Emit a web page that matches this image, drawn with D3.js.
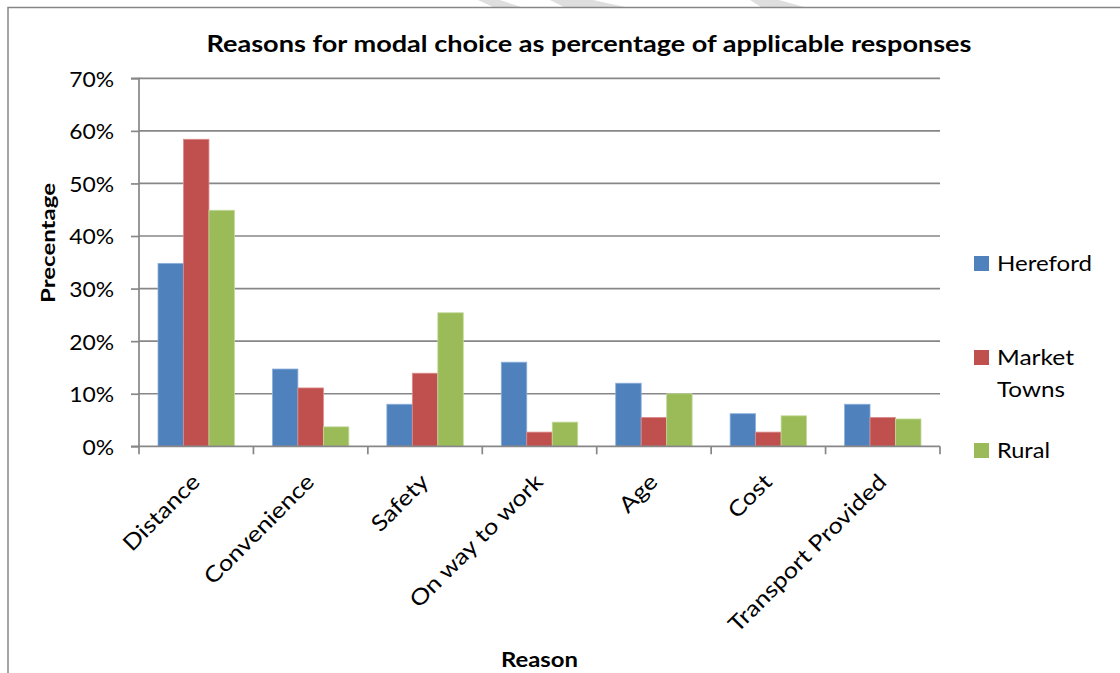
<!DOCTYPE html>
<html>
<head>
<meta charset="utf-8">
<script src="https://cdn.jsdelivr.net/npm/d3@7"></script>
<style>
  html, body { margin: 0; padding: 0; background: #fff; }
  svg { display: block; }
  text { font-family: Lato, "Open Sans", sans-serif; fill: #000; }
</style>
</head>
<body>
<svg id="chart" width="1120" height="673"></svg>
<script>
// ---- data ----
const categories = ["Distance", "Convenience", "Safety", "On way to work", "Age", "Cost", "Transport Provided"];
const seriesNames = ["Hereford", "Market Towns", "Rural"];
const hereford    = [34.8, 14.7, 8.0, 16.0, 12.0, 6.2, 8.0];
const marketTowns = [58.4, 11.1, 13.9, 2.7, 5.5, 2.7, 5.5];
const rural       = [44.9, 3.7, 25.4, 4.6, 10.0, 5.8, 5.2];
const yTicks = [0, 10, 20, 30, 40, 50, 60, 70];
const colors = ["#4F81BD", "#C0504D", "#9BBB59"];
const strokeColors = ["#8DB0DC", "#DC8C8A", "#C3DA9C"];

const seriesValues = [hereford, marketTowns, rural];

const svg = d3.select("#chart");

// stretch a text element horizontally to a given length
function fitLength(sel, target) {
  sel.each(function () {
    const L = this.getComputedTextLength();
    const t = typeof target === "function" ? target(L) : target;
    d3.select(this).attr("textLength", t).attr("lengthAdjust", "spacingAndGlyphs");
  });
}

// watermark fragments at top edge
const stripes = [
  [[478,0],[500,0],[521,7],[493,7]],
  [[550,0],[593,0],[625,7],[564,7]],
  [[750,0],[779,0],[804,7],[761,7]]
];
svg.selectAll("polygon.wm").data(stripes).join("polygon")
  .attr("points", d => d.map(p => p.join(",")).join(" "))
  .attr("fill", "#dedede");

// chart border
svg.append("rect")
  .attr("x", 8).attr("y", 7.5)
  .attr("width", 1130).attr("height", 700)
  .attr("fill", "#fff").attr("stroke", "#868686").attr("stroke-width", 1.5);

const plot = { left: 139, right: 940, top: 78.3, bottom: 446.3 };

const x0 = d3.scaleBand().domain(categories).range([plot.left, plot.right]).paddingInner(0).paddingOuter(0);
const x1 = d3.scaleBand().domain(seriesNames).range([19, x0.bandwidth() - 19]).padding(0);
const y = d3.scaleLinear().domain([0, 70]).range([plot.bottom, plot.top]);

// gridlines
svg.append("g").selectAll("line").data(yTicks.filter(t => t > 0)).join("line")
  .attr("x1", plot.left).attr("x2", plot.right)
  .attr("y1", d => y(d)).attr("y2", d => y(d))
  .attr("stroke", "#878787").attr("stroke-width", 1.7);

// bars
const rows = [];
categories.forEach((c, i) => {
  seriesNames.forEach((s, j) => rows.push({ cat: c, series: s, j, v: seriesValues[j][i] }));
});
svg.append("g").selectAll("rect").data(rows).join("rect")
  .attr("x", d => x0(d.cat) + x1(d.series))
  .attr("width", x1.bandwidth())
  .attr("y", d => y(d.v))
  .attr("height", d => y(0) - y(d.v))
  .attr("fill", d => colors[d.j])
  .attr("stroke", d => strokeColors[d.j])
  .attr("stroke-width", 0.8);

// y axis
const yAxis = d3.axisLeft(y).tickValues(yTicks).tickSize(8).tickPadding(17)
  .tickFormat(d => d + "%");
const gy = svg.append("g").attr("transform", `translate(${plot.left},0)`).call(yAxis);
gy.select(".domain").attr("stroke", "#878787").attr("stroke-width", 1.7).attr("d", `M-8,${plot.top}H0V${plot.bottom}`);
gy.selectAll(".tick line").attr("stroke", "#878787").attr("stroke-width", 1.7);
gy.selectAll(".tick text").attr("font-family", "Lato").attr("font-size", 22).attr("fill", "#000").attr("dy", "0.36em");
fitLength(gy.selectAll(".tick text"), L => L * 1.04);

// x axis
const xAxis = d3.axisBottom(x0).tickSize(0).tickFormat("");
const gx = svg.append("g").attr("transform", `translate(0,${plot.bottom})`).call(xAxis);
gx.select(".domain").attr("stroke", "#878787").attr("stroke-width", 1.7).attr("d", `M${plot.left - 8},0H${plot.right}`);
const bounds = categories.map(c => x0(c)).concat([plot.right]);
gx.append("g").selectAll("line").data(bounds).join("line")
  .attr("x1", d => d).attr("x2", d => d).attr("y1", 0).attr("y2", 8)
  .attr("stroke", "#878787").attr("stroke-width", 1.7);
const xl = gx.append("g").selectAll("text").data(categories).join("text")
  .attr("transform", d => `translate(${x0(d) + x0.bandwidth() / 2 + 5},${37}) rotate(-45)`)
  .attr("text-anchor", "end")
  .attr("font-size", 22)
  .text(d => d);
fitLength(xl, L => L * 1.16);

// title
const title = svg.append("text")
  .attr("x", 589).attr("y", 52)
  .attr("text-anchor", "middle")
  .attr("font-weight", "bold").attr("font-size", 22)
  .text("Reasons for modal choice as percentage of applicable responses");
fitLength(title, 765);

// axis titles
const yt = svg.append("text")
  .attr("transform", "translate(55,243) rotate(-90)")
  .attr("text-anchor", "middle")
  .attr("font-weight", "bold").attr("font-size", 19.5)
  .text("Precentage");
fitLength(yt, 120);

const xt = svg.append("text")
  .attr("x", (plot.left + plot.right) / 2).attr("y", 667)
  .attr("text-anchor", "middle")
  .attr("font-weight", "bold").attr("font-size", 20.5)
  .text("Reason");
fitLength(xt, 77);

// legend
const legendItems = [
  { name: ["Hereford"], w: [95], y: 271 },
  { name: ["Market", "Towns"], w: [77, 68], y: 365 },
  { name: ["Rural"], w: [53], y: 458 }
];
const lg = svg.append("g");
legendItems.forEach((it, i) => {
  lg.append("rect").attr("x", 974).attr("y", it.y - 15).attr("width", 15).attr("height", 15).attr("fill", colors[i]);
  it.name.forEach((line, k) => {
    const t = lg.append("text").attr("x", 997).attr("y", it.y + k * 32).attr("font-size", 21).text(line);
    fitLength(t, it.w[k]);
  });
});
</script>
</body>
</html>
